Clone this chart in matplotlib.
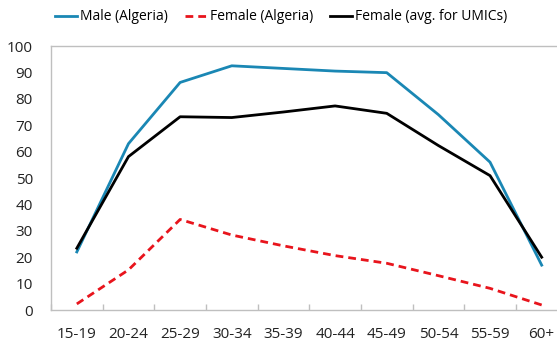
import matplotlib
matplotlib.use("Agg")
import matplotlib.pyplot as plt
import numpy as np

age_groups = ["15-19", "20-24", "25-29", "30-34", "35-39", "40-44",
              "45-49", "50-54", "55-59", "60+"]
male_algeria = [22, 63, 86.2, 92.5, 91.5, 90.5, 89.9, 74, 56, 17]
female_algeria = [2.3, 15.2, 34.3, 28.4, 24.3, 20.6, 17.7, 13, 8.2, 1.9]
female_umic = [23.4, 58.1, 73.2, 72.9, 75, 77.3, 74.5, 62.3, 50.9, 20]
yticks = [0, 10, 20, 30, 40, 50, 60, 70, 80, 90, 100]

plt.rcParams['font.family'] = ['Open Sans', 'DejaVu Sans']

fig = plt.figure(figsize=(5.57, 3.42), dpi=100)
ax = fig.add_axes([51 / 557, 1 - 310 / 342, 516.5 / 557, 264 / 342])

x = np.arange(len(age_groups))
ax.plot(x, male_algeria, color='#1a87b4', lw=2.0, label='Male (Algeria)')
ax.plot(x, female_algeria, color='#e8141c', lw=2.0, ls=(0, (2.8, 1.8)),
        label='Female (Algeria)')
ax.plot(x, female_umic, color='black', lw=2.0,
        label='Female (avg. for UMICs)')

ax.set_xlim(-0.5, len(age_groups) - 0.5)
ax.set_ylim(0, 100)
ax.set_yticks(yticks)
ax.tick_params(axis='y', length=0, pad=13, labelsize=11, colors='#222222')

# boundaries carry the tick marks, centres carry the labels
ax.set_xticks(np.arange(-0.5, len(age_groups) + 0.5, 1.0))
ax.set_xticklabels([])
ax.set_xticks(x, minor=True)
ax.set_xticklabels(age_groups, minor=True)
ax.tick_params(axis='x', which='major', direction='in', length=4,
               color='#bfbfbf', width=1)
ax.tick_params(axis='x', which='minor', length=0, pad=12, labelsize=11,
               colors='#222222')

for side in ['left', 'bottom', 'top']:
    ax.spines[side].set_color('#bfbfbf')
    ax.spines[side].set_linewidth(1)
ax.spines['right'].set_visible(False)

fig.legend(loc='center', bbox_to_anchor=(281 / 557, 1 - 17 / 342), ncol=3,
           frameon=False, fontsize=10, handlelength=1.6, handletextpad=0.2,
           columnspacing=1.2, borderaxespad=0)

fig.savefig('out.png', dpi=100)
